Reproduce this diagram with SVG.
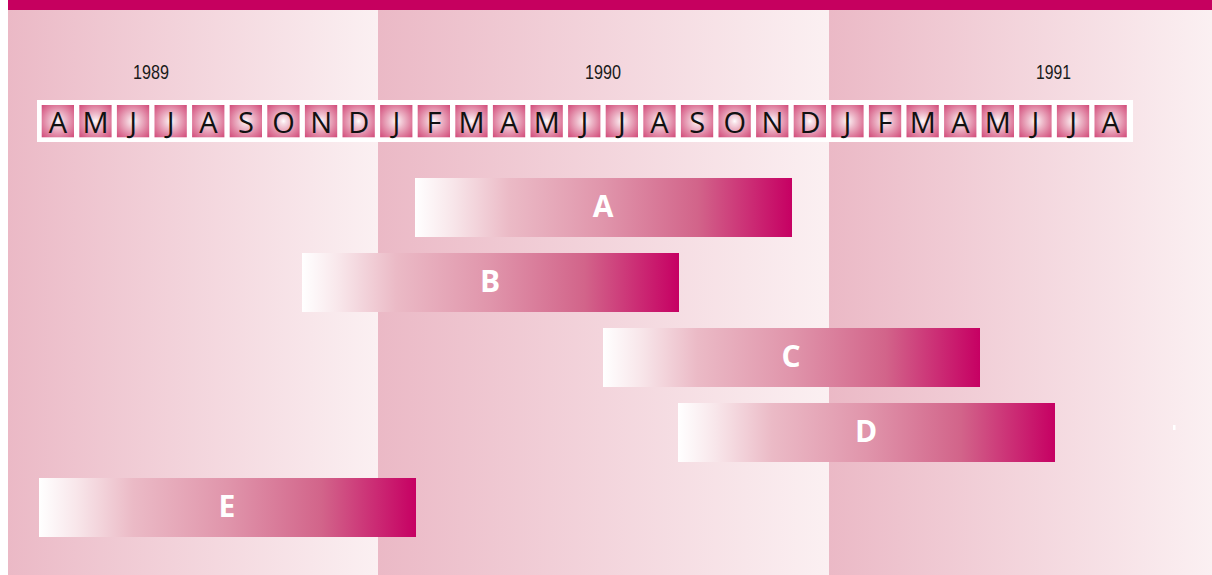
<svg xmlns="http://www.w3.org/2000/svg" width="1212" height="575" viewBox="0 0 1212 575">
<defs>
<linearGradient id="panel" x1="0" y1="0" x2="1" y2="0">
<stop offset="0" stop-color="#ebb9c6"/>
<stop offset="1" stop-color="#fbf0f2"/>
</linearGradient>
<linearGradient id="bar" x1="0" y1="0" x2="1" y2="0">
<stop offset="0" stop-color="#ffffff"/>
<stop offset="0.1" stop-color="#f8e6ea"/>
<stop offset="0.25" stop-color="#ebbac6"/>
<stop offset="0.5" stop-color="#e095ab"/>
<stop offset="0.75" stop-color="#d2648a"/>
<stop offset="1" stop-color="#c60063"/>
</linearGradient>
<radialGradient id="box" cx="0.5" cy="0.5" r="0.72">
<stop offset="0" stop-color="#ffffff"/>
<stop offset="0.12" stop-color="#f7dfe6"/>
<stop offset="0.35" stop-color="#ecb4c6"/>
<stop offset="0.65" stop-color="#df7f9f"/>
<stop offset="1" stop-color="#d04676"/>
</radialGradient>
<style>
.m{font-family:"Open Sans","Liberation Sans",sans-serif;font-size:29px;fill:#111;text-anchor:middle}
.y{font-family:"Liberation Sans",sans-serif;font-size:20px;fill:#1a1a1a}
.b{font-family:"Open Sans","Liberation Sans",sans-serif;font-weight:bold;font-size:30px;fill:#fff;text-anchor:middle}
.bx{fill:url(#box)}
.br{fill:url(#bar)}
</style>
</defs>
<rect x="0" y="0" width="1212" height="575" fill="#ffffff"/>
<g id="panels">
<rect x="8" y="10" width="370" height="565" fill="url(#panel)"/>
<rect x="378" y="10" width="451" height="565" fill="url(#panel)"/>
<rect x="829" y="10" width="383" height="565" fill="url(#panel)"/>
<rect x="8" y="0" width="1204" height="10" fill="#c6005f"/>
</g>
<g id="years">
<text class="y" x="133" y="79" textLength="36" lengthAdjust="spacingAndGlyphs">1989</text>
<text class="y" x="585" y="79" textLength="36" lengthAdjust="spacingAndGlyphs">1990</text>
<text class="y" x="1036" y="79" textLength="35" lengthAdjust="spacingAndGlyphs">1991</text>
</g>
<g id="months">
<rect x="37" y="100" width="1096" height="42" fill="#ffffff"/>
<g id="m0"><rect class="bx" x="41.7" y="105" width="32.3" height="32.3"/><text class="m" x="57.9" y="132.7">A</text></g>
<g id="m1"><rect class="bx" x="79.3" y="105" width="32.3" height="32.3"/><text class="m" x="95.5" y="132.7">M</text></g>
<g id="m2"><rect class="bx" x="116.9" y="105" width="32.3" height="32.3"/><text class="m" x="133.1" y="132.7">J</text></g>
<g id="m3"><rect class="bx" x="154.5" y="105" width="32.3" height="32.3"/><text class="m" x="170.7" y="132.7">J</text></g>
<g id="m4"><rect class="bx" x="192.1" y="105" width="32.3" height="32.3"/><text class="m" x="208.3" y="132.7">A</text></g>
<g id="m5"><rect class="bx" x="229.7" y="105" width="32.3" height="32.3"/><text class="m" x="245.9" y="132.7">S</text></g>
<g id="m6"><rect class="bx" x="267.3" y="105" width="32.3" height="32.3"/><text class="m" x="283.5" y="132.7">O</text></g>
<g id="m7"><rect class="bx" x="304.9" y="105" width="32.3" height="32.3"/><text class="m" x="321.1" y="132.7">N</text></g>
<g id="m8"><rect class="bx" x="342.5" y="105" width="32.3" height="32.3"/><text class="m" x="358.7" y="132.7">D</text></g>
<g id="m9"><rect class="bx" x="380.1" y="105" width="32.3" height="32.3"/><text class="m" x="396.3" y="132.7">J</text></g>
<g id="m10"><rect class="bx" x="417.7" y="105" width="32.3" height="32.3"/><text class="m" x="433.9" y="132.7">F</text></g>
<g id="m11"><rect class="bx" x="455.3" y="105" width="32.3" height="32.3"/><text class="m" x="471.5" y="132.7">M</text></g>
<g id="m12"><rect class="bx" x="492.9" y="105" width="32.3" height="32.3"/><text class="m" x="509.1" y="132.7">A</text></g>
<g id="m13"><rect class="bx" x="530.5" y="105" width="32.3" height="32.3"/><text class="m" x="546.7" y="132.7">M</text></g>
<g id="m14"><rect class="bx" x="568.1" y="105" width="32.3" height="32.3"/><text class="m" x="584.3" y="132.7">J</text></g>
<g id="m15"><rect class="bx" x="605.7" y="105" width="32.3" height="32.3"/><text class="m" x="621.9" y="132.7">J</text></g>
<g id="m16"><rect class="bx" x="643.3" y="105" width="32.3" height="32.3"/><text class="m" x="659.5" y="132.7">A</text></g>
<g id="m17"><rect class="bx" x="680.9" y="105" width="32.3" height="32.3"/><text class="m" x="697.1" y="132.7">S</text></g>
<g id="m18"><rect class="bx" x="718.5" y="105" width="32.3" height="32.3"/><text class="m" x="734.7" y="132.7">O</text></g>
<g id="m19"><rect class="bx" x="756.1" y="105" width="32.3" height="32.3"/><text class="m" x="772.3" y="132.7">N</text></g>
<g id="m20"><rect class="bx" x="793.7" y="105" width="32.3" height="32.3"/><text class="m" x="809.9" y="132.7">D</text></g>
<g id="m21"><rect class="bx" x="831.3" y="105" width="32.3" height="32.3"/><text class="m" x="847.5" y="132.7">J</text></g>
<g id="m22"><rect class="bx" x="868.9" y="105" width="32.3" height="32.3"/><text class="m" x="885.1" y="132.7">F</text></g>
<g id="m23"><rect class="bx" x="906.5" y="105" width="32.3" height="32.3"/><text class="m" x="922.7" y="132.7">M</text></g>
<g id="m24"><rect class="bx" x="944.1" y="105" width="32.3" height="32.3"/><text class="m" x="960.3" y="132.7">A</text></g>
<g id="m25"><rect class="bx" x="981.7" y="105" width="32.3" height="32.3"/><text class="m" x="997.9" y="132.7">M</text></g>
<g id="m26"><rect class="bx" x="1019.3" y="105" width="32.3" height="32.3"/><text class="m" x="1035.5" y="132.7">J</text></g>
<g id="m27"><rect class="bx" x="1056.9" y="105" width="32.3" height="32.3"/><text class="m" x="1073.1" y="132.7">J</text></g>
<g id="m28"><rect class="bx" x="1094.5" y="105" width="32.3" height="32.3"/><text class="m" x="1110.7" y="132.7">A</text></g>
</g>
<g id="barA"><rect class="br" x="415" y="178" width="377" height="59"/><text class="b" x="603" y="217">A</text></g>
<g id="barB"><rect class="br" x="302" y="253" width="377" height="59"/><text class="b" x="490" y="292">B</text></g>
<g id="barC"><rect class="br" x="603" y="328" width="377" height="59"/><text class="b" x="791" y="367">C</text></g>
<g id="barD"><rect class="br" x="678" y="403" width="377" height="59"/><text class="b" x="866" y="442">D</text></g>
<g id="barE"><rect class="br" x="39" y="478" width="377" height="59"/><text class="b" x="227" y="517">E</text></g>
<rect x="1173" y="425" width="2.5" height="5" fill="#ffffff"/>
<g id="connectors"/>
</svg>
